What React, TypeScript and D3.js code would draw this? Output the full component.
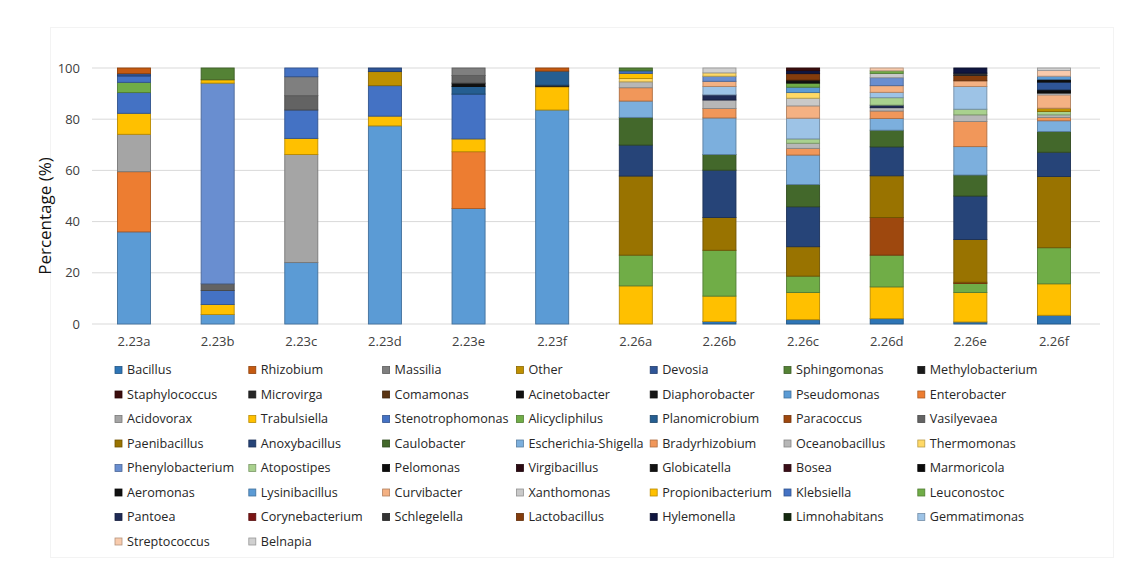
import * as d3 from "d3";

const categories = ["2.23a", "2.23b", "2.23c", "2.23d", "2.23e", "2.23f", "2.26a", "2.26b", "2.26c", "2.26d", "2.26e", "2.26f"];
const yTicks = [0, 20, 40, 60, 80, 100];

// legend order (row by row, 7 per row)
const seriesNames = [
  "Bacillus", "Rhizobium", "Massilia", "Other", "Devosia", "Sphingomonas", "Methylobacterium",
  "Staphylococcus", "Microvirga", "Comamonas", "Acinetobacter", "Diaphorobacter", "Pseudomonas", "Enterobacter",
  "Acidovorax", "Trabulsiella", "Stenotrophomonas", "Alicycliphilus", "Planomicrobium", "Paracoccus", "Vasilyevaea",
  "Paenibacillus", "Anoxybacillus", "Caulobacter", "Escherichia-Shigella", "Bradyrhizobium", "Oceanobacillus", "Thermomonas",
  "Phenylobacterium", "Atopostipes", "Pelomonas", "Virgibacillus", "Globicatella", "Bosea", "Marmoricola",
  "Aeromonas", "Lysinibacillus", "Curvibacter", "Xanthomonas", "Propionibacterium", "Klebsiella", "Leuconostoc",
  "Pantoea", "Corynebacterium", "Schlegelella", "Lactobacillus", "Hylemonella", "Limnohabitans", "Gemmatimonas",
  "Streptococcus", "Belnapia",
];

const seriesColors = [
  "#2E75B6", "#C55A11", "#7F7F7F", "#BF9000", "#2F5597", "#548235", "#1A1A1A",
  "#3B0D0D", "#262626", "#5A3413", "#111111", "#161616", "#5B9BD5", "#ED7D31",
  "#A5A5A5", "#FFC000", "#4472C4", "#70AD47", "#255E91", "#9E480E", "#636363",
  "#997300", "#264478", "#43682B", "#7CAFDD", "#F1975A", "#B7B7B7", "#FFD966",
  "#698ED0", "#A9D18E", "#0D0D0D", "#2B0A12", "#121212", "#3A0E18", "#0A0A0A",
  "#101010", "#5B9BD5", "#F4B183", "#C9C9C9", "#FFC000", "#4472C4", "#70AD47",
  "#1F2A55", "#7B1515", "#333333", "#843C0C", "#101640", "#15290F", "#9DC3E6",
  "#F8CBAD", "#D0D0D0",
];

// bottom-to-top stacking order
const stackOrder = [
  "Bacillus", "Lysinibacillus", "Enterobacter", "Acidovorax", "Propionibacterium", "Klebsiella", "Leuconostoc",
  "Microvirga", "Planomicrobium", "Acinetobacter", "Vasilyevaea", "Paracoccus", "Paenibacillus", "Anoxybacillus",
  "Caulobacter", "Escherichia-Shigella", "Bradyrhizobium", "Oceanobacillus", "Pantoea", "Atopostipes", "Other",
  "Gemmatimonas", "Curvibacter", "Phenylobacterium", "Xanthomonas", "Thermomonas", "Trabulsiella", "Massilia",
  "Stenotrophomonas", "Pelomonas", "Devosia", "Aeromonas", "Pseudomonas", "Alicycliphilus", "Streptococcus",
  "Sphingomonas", "Rhizobium", "Globicatella", "Lactobacillus", "Schlegelella", "Hylemonella", "Staphylococcus",
  "Belnapia", "Methylobacterium", "Comamonas", "Diaphorobacter", "Virgibacillus", "Bosea", "Marmoricola",
  "Corynebacterium", "Limnohabitans",
];

// percentage per category, same order as categories
const shares: Record<string, number[]> = {
  Bacillus: [0, 0, 0, 0, 0, 0, 0, 1.0, 1.7, 2.1, 0.8, 3.4],
  Lysinibacillus: [36.0, 3.7, 24.0, 77.4, 45.1, 83.6, 0, 0, 0, 0, 0, 0],
  Enterobacter: [23.5, 0, 0, 0, 22.2, 0, 0, 0, 0, 0, 0, 0],
  Acidovorax: [14.6, 0, 42.2, 0, 0, 0, 0, 0, 0, 0, 0, 0],
  Propionibacterium: [8.2, 3.9, 6.3, 3.8, 5.0, 9.1, 14.9, 9.9, 10.6, 12.4, 11.5, 12.3],
  Klebsiella: [8.1, 5.5, 11.1, 11.9, 17.5, 0, 0, 0, 0, 0, 0, 0],
  Leuconostoc: [4.0, 0, 0, 0, 0, 0, 12.0, 17.9, 6.4, 12.4, 3.5, 14.1],
  Microvirga: [0, 0, 0, 0, 0, 0.6, 0, 0, 0, 0, 0, 0],
  Planomicrobium: [0, 0, 0, 0, 3.0, 5.5, 0, 0, 0, 0, 0, 0],
  Acinetobacter: [0, 0, 0, 0, 1.3, 0, 0, 0, 0, 0, 0, 0],
  Vasilyevaea: [0, 2.6, 5.6, 0, 3.0, 0, 0, 0, 0, 0, 0, 0],
  Paracoccus: [0, 0, 0, 0, 0, 0, 0, 0, 0, 14.7, 0.5, 0],
  Paenibacillus: [0, 0, 0, 0, 0, 0, 30.9, 12.8, 11.5, 16.3, 16.7, 27.8],
  Anoxybacillus: [0, 0, 0, 0, 0, 0, 12.1, 18.5, 15.6, 11.3, 17.0, 9.5],
  Caulobacter: [0, 0, 0, 0, 0, 0, 10.8, 6.1, 8.7, 6.5, 8.2, 8.1],
  "Escherichia-Shigella": [0, 0, 0, 0, 0, 0, 6.4, 14.3, 11.5, 4.6, 11.1, 4.2],
  Bradyrhizobium: [0, 0, 0, 0, 0, 0, 5.2, 3.7, 2.6, 2.9, 9.8, 1.3],
  Oceanobacillus: [0, 0, 0, 0, 0, 0, 2.3, 3.3, 2.0, 1.3, 2.6, 1.0],
  Pantoea: [0, 0, 0, 0, 0, 0, 0, 2.0, 0, 1.0, 0, 0],
  Atopostipes: [0, 0, 0, 0, 0, 0, 0, 0, 1.7, 2.9, 2.2, 1.3],
  Other: [0, 0, 0, 5.5, 0, 0, 0, 0, 0, 0, 0, 1.3],
  Gemmatimonas: [0, 0, 0, 0, 0, 0, 0, 3.3, 8.1, 2.1, 8.9, 0],
  Curvibacter: [0, 0, 0, 0, 0, 0, 0, 2.0, 4.8, 2.6, 2.2, 5.2],
  Phenylobacterium: [0, 78.4, 0, 0, 0, 0, 0, 2.0, 0, 3.1, 0, 0],
  Xanthomonas: [0, 0, 0, 0, 0, 0, 0, 0, 3.0, 1.7, 0, 0.7],
  Thermomonas: [0, 0, 0, 0, 0, 0, 1.3, 1.3, 2.2, 0, 0, 0],
  Trabulsiella: [0, 1.3, 0, 0, 0, 0, 2.0, 0, 0, 0, 0, 0],
  Massilia: [0, 0, 7.4, 0, 2.9, 0, 0, 0, 0, 0, 0, 0],
  Stenotrophomonas: [2.5, 0, 3.4, 0, 0, 0, 1.0, 0, 0, 0, 0, 0],
  Pelomonas: [0, 0, 0, 0, 0, 0, 0, 0, 0, 0, 0, 1.3],
  Devosia: [0.9, 0, 0, 1.4, 0, 0, 0, 0, 0, 0, 0, 3.0],
  Aeromonas: [0, 0, 0, 0, 0, 0, 0, 0, 0, 0, 0, 1.0],
  Pseudomonas: [0, 0, 0, 0, 0, 0, 0, 0, 2.1, 0, 0, 1.3],
  Alicycliphilus: [0, 0, 0, 0, 0, 0, 0, 0, 1.6, 1.0, 0, 0],
  Streptococcus: [0, 0, 0, 0, 0, 0, 0, 0, 0, 1.1, 0, 2.2],
  Sphingomonas: [0, 4.6, 0, 0, 0, 0, 1.1, 0, 0, 0, 0, 0],
  Rhizobium: [2.2, 0, 0, 0, 0, 1.2, 0, 0, 0, 0, 0, 0],
  Globicatella: [0, 0, 0, 0, 0, 0, 0, 0, 1.2, 0, 0, 0],
  Lactobacillus: [0, 0, 0, 0, 0, 0, 0, 0, 2.5, 0, 2.1, 0],
  Schlegelella: [0, 0, 0, 0, 0, 0, 0, 0, 0, 0, 0.9, 0],
  Hylemonella: [0, 0, 0, 0, 0, 0, 0, 0, 1.2, 0, 2.0, 0],
  Staphylococcus: [0, 0, 0, 0, 0, 0, 0, 0, 1.0, 0, 0, 0],
  Belnapia: [0, 0, 0, 0, 0, 0, 0, 1.9, 0, 0, 0, 1.0],
};

const W = 1140;
const H = 576;
const FONT = "'Open Sans', sans-serif";

const colorOf = (name: string) => seriesColors[seriesNames.indexOf(name)];

const App = () => {
  const rows = categories.map((cat, i) => {
    const row: any = { cat };
    seriesNames.forEach((n) => {
      row[n] = shares[n] ? shares[n][i] : 0;
    });
    return row;
  });

  const stacked = d3.stack<any>().keys(stackOrder)(rows);

  const x = d3.scaleBand().domain(categories).range([92, 1096]).paddingInner(0.605).paddingOuter(0.305);
  const y = d3.scaleLinear().domain([0, 100]).range([324, 68]);

  const legendX = (c: number) => 115 + c * 133.8;
  const legendY = (r: number) => 370 + r * 24.5;

  return (
    <svg width={W} height={H} style={{ position: "absolute", left: 0, top: 0, background: "#fff" }} fontFamily={FONT}>
      <rect x={50.5} y={27.5} width={1063} height={530} fill="none" stroke="#F3F3F3" />
      {/* grid + y ticks */}
      {yTicks.map((t) => (
        <g key={t}>
          <line x1={92} x2={1100} y1={y(t)} y2={y(t)} stroke="#D9D9D9" strokeWidth={1} />
          <text x={80} y={y(t)} dy="0.35em" textAnchor="end" fontSize={13} fill="#404040">
            {t}
          </text>
        </g>
      ))}
      {/* bars */}
      {stacked.map((layer) => {
        const fill = colorOf(layer.key);
        const stroke = d3.color(fill)!.darker(0.9).formatHex();
        return (
          <g key={layer.key}>
            {layer.map((d, i) =>
              d[1] - d[0] > 0 ? (
                <rect
                  key={i}
                  x={x(categories[i])!}
                  y={y(d[1])}
                  width={x.bandwidth()}
                  height={y(d[0]) - y(d[1])}
                  fill={fill}
                  stroke={stroke}
                  strokeWidth={0.9}
                />
              ) : null
            )}
          </g>
        );
      })}
      {/* category labels */}
      {categories.map((c) => (
        <text key={c} x={x(c)! + x.bandwidth() / 2} y={341} dy="0.35em" textAnchor="middle" fontSize={13} fill="#404040">
          {c}
        </text>
      ))}
      {/* y title */}
      <text transform="translate(45,216) rotate(-90)" textAnchor="middle" dy="0.35em" fontSize={17} fill="#111">
        Percentage (%)
      </text>
      {/* legend */}
      {seriesNames.map((n, i) => {
        const c = i % 7;
        const r = Math.floor(i / 7);
        const fill = seriesColors[i];
        return (
          <g key={n}>
            <rect
              x={legendX(c)}
              y={legendY(r) - 3.5}
              width={7}
              height={7}
              fill={fill}
              stroke={d3.color(fill)!.darker(0.9).formatHex()}
              strokeWidth={0.8}
            />
            <text x={legendX(c) + 12} y={legendY(r)} dy="0.35em" fontSize={12.6} fill="#262626">
              {n}
            </text>
          </g>
        );
      })}
    </svg>
  );
};

export default App;
